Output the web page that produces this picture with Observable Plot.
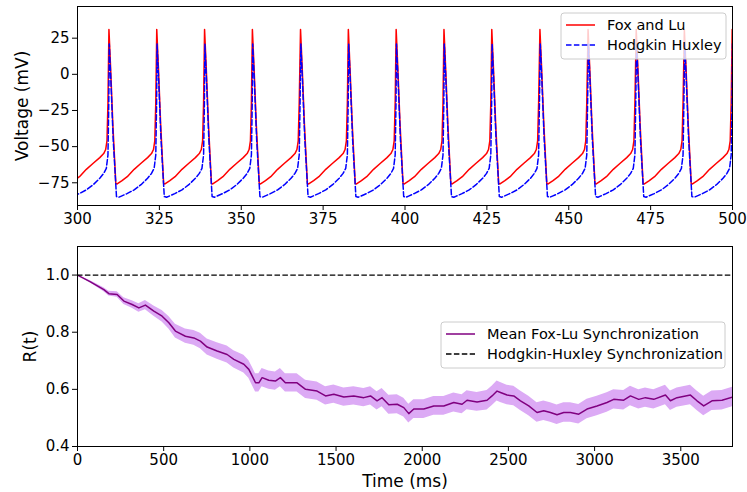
<!DOCTYPE html>
<html><head><meta charset="utf-8">
<script src="https://cdn.jsdelivr.net/npm/d3@7"></script>
<script src="https://cdn.jsdelivr.net/npm/@observablehq/plot@0.6"></script>
<style>
body{margin:0;background:#fff;}
#chart{width:747px;height:492px;}
#chart svg{display:block;}
</style>
</head><body><div id="chart"></div>
<script>
// ---------- Top panel data (membrane voltage) ----------
// spike peak times (ms) (first one lies just left of the view)
const spikeTimes = [295.0, 309.6, 324.2, 338.8, 353.4, 368.1, 382.7, 397.3, 411.9, 426.5, 441.2, 455.9, 470.6, 485.3, 499.9];
// one Fox & Lu cycle: offset after a spike peak (ms) and voltage (mV)
const foxCycleT = [0, 0.5, 1.2, 2.1, 2.5, 4.0, 5.6, 7.7, 9.8, 11.8, 13.0, 13.6, 14.0, 14.3];
const foxCycleV = [31, 5, -35, -75.5, -75.8, -73.5, -70.8, -65.7, -61.5, -57.6, -54.8, -52, -46, -20];
// one Hodgkin-Huxley cycle
const hhCycleT = [0.1, 0.6, 1.3, 2.3, 3.0, 3.8, 5.5, 7.7, 9.8, 11.8, 13.0, 13.8, 14.3, 14.55];
const hhCycleV = [21, -5, -45, -84.5, -85, -84.2, -82.5, -79.9, -76.3, -71.9, -68.5, -65, -55.8, -20];
const topXTicks = [300, 325, 350, 375, 400, 425, 450, 475, 500];
const topYTicks = [-75, -50, -25, 0, 25];

// ---------- Bottom panel data (synchronization) ----------
const syncTime = [0,75,153,182,230,269,317,356,394,443,491,530,568,626,675,713,752,810,868,907,965,994,1013,1033,1052,1071,1110,1148,1177,1206,1274,1323,1390,1439,1487,1545,1603,1661,1700,1738,1767,1806,1855,1893,1922,1951,2009,2067,2125,2183,2231,2260,2318,2376,2405,2434,2454,2492,2531,2570,2618,2666,2705,2744,2782,2821,2860,2908,2956,3014,3072,3111,3169,3208,3256,3295,3343,3411,3440,3478,3556,3594,3633,3681,3739,3800];
const syncMean = [1.000,0.976,0.949,0.935,0.932,0.909,0.897,0.885,0.895,0.874,0.856,0.833,0.804,0.786,0.780,0.769,0.748,0.734,0.722,0.705,0.688,0.670,0.647,0.623,0.623,0.641,0.632,0.629,0.641,0.623,0.623,0.600,0.594,0.577,0.583,0.573,0.577,0.571,0.577,0.560,0.571,0.546,0.548,0.536,0.515,0.531,0.531,0.542,0.542,0.554,0.548,0.562,0.556,0.562,0.577,0.594,0.589,0.580,0.577,0.560,0.542,0.519,0.525,0.519,0.511,0.519,0.519,0.513,0.531,0.542,0.554,0.565,0.562,0.577,0.565,0.571,0.565,0.580,0.560,0.571,0.580,0.560,0.542,0.560,0.562,0.573];
const syncSpread = [0.000,0.004,0.007,0.008,0.010,0.012,0.013,0.015,0.016,0.018,0.020,0.022,0.024,0.025,0.026,0.027,0.028,0.029,0.030,0.030,0.031,0.031,0.032,0.032,0.032,0.032,0.032,0.032,0.032,0.032,0.032,0.032,0.032,0.032,0.032,0.032,0.032,0.032,0.032,0.032,0.032,0.033,0.033,0.033,0.033,0.033,0.033,0.033,0.033,0.033,0.033,0.033,0.033,0.034,0.034,0.035,0.035,0.034,0.034,0.034,0.034,0.034,0.034,0.034,0.034,0.034,0.034,0.034,0.034,0.034,0.034,0.034,0.034,0.034,0.034,0.034,0.034,0.034,0.034,0.034,0.034,0.034,0.034,0.034,0.034,0.034];
const hhSyncLevel = [1.0];
const botXTicks = [0, 500, 1000, 1500, 2000, 2500, 3000, 3500];
const botYTicks = [0.4, 0.6, 0.8, 1.0];

// ---------- build tables ----------
function buildTrace(times, cT, cV) {
  const out = [];
  times.forEach(s => cT.forEach((o, i) => out.push({t: s + o, v: cV[i]})));
  return out;
}
const foxData = buildTrace(spikeTimes, foxCycleT, foxCycleV);
const hhData = buildTrace(spikeTimes, hhCycleT, hhCycleV);
const syncData = syncTime.map((t, i) => ({t, m: syncMean[i], lo: syncMean[i] - syncSpread[i], hi: syncMean[i] + syncSpread[i]}));

const FONT = "'DejaVu Sans', sans-serif";
const baseStyle = {fontFamily: FONT, fontSize: "15px", color: "#000", background: "#fff"};

const topPlot = Plot.plot({
  width: 747, height: 240,
  marginLeft: 77, marginRight: 15, marginTop: 6, marginBottom: 35,
  style: baseStyle,
  x: {domain: [300, 500], ticks: topXTicks, tickFormat: d3.format("d"), tickSize: 5, tickPadding: 3, label: null},
  y: {domain: [-90.7, 46.9], ticks: topYTicks, tickFormat: d3.format("d"), tickSize: 5, tickPadding: 3, label: null},
  marks: [
    Plot.line(foxData, {x: "t", y: "v", stroke: "#ff0000", strokeWidth: 1.5, clip: true}),
    Plot.line(hhData, {x: "t", y: "v", stroke: "#0000ff", strokeWidth: 1.5, strokeDasharray: "5.5,2.4", clip: true}),
    Plot.frame({stroke: "#000", strokeWidth: 1}),
    Plot.text(["Voltage (mV)"], {text: d => d, frameAnchor: "left", textAnchor: "middle", lineAnchor: "middle", dx: -55, rotate: -90, fontSize: 17})
  ]
});

const bottomPlot = Plot.plot({
  width: 747, height: 252,
  marginLeft: 77, marginRight: 15, marginTop: 6, marginBottom: 46,
  style: baseStyle,
  x: {domain: [0, 3800], ticks: botXTicks, tickFormat: d3.format("d"), tickSize: 5, tickPadding: 3, label: null},
  y: {domain: [0.4, 1.1], ticks: botYTicks, tickFormat: d3.format(".1f"), tickSize: 5, tickPadding: 3, label: null},
  marks: [
    Plot.areaY(syncData, {x: "t", y1: "lo", y2: "hi", fill: "#dcaaf5", clip: true}),
    Plot.line(syncData, {x: "t", y: "m", stroke: "#800080", strokeWidth: 1.5, clip: true}),
    Plot.ruleY(hhSyncLevel, {stroke: "#000", strokeWidth: 1.3, strokeDasharray: "5.5,2.4"}),
    Plot.frame({stroke: "#000", strokeWidth: 1}),
    Plot.text(["R(t)"], {text: d => d, frameAnchor: "left", textAnchor: "middle", lineAnchor: "middle", dx: -47, rotate: -90, fontSize: 17}),
    Plot.text(["Time (ms)"], {text: d => d, frameAnchor: "bottom", textAnchor: "middle", lineAnchor: "middle", dy: 35, fontSize: 17})
  ]
});

function addLegend(svg, x, y, w, h, items) {
  const g = d3.select(svg).append("g").attr("text-anchor", "start");
  g.append("rect").attr("x", x).attr("y", y).attr("width", w).attr("height", h)
    .attr("rx", 3).attr("fill", "#fff").attr("fill-opacity", 0.8)
    .attr("stroke", "#cccccc").attr("stroke-width", 1);
  items.forEach((it, i) => {
    const cy = y + 12 + i * 20;
    g.append("line").attr("x1", x + 5).attr("x2", x + 34).attr("y1", cy).attr("y2", cy)
      .attr("stroke", it.color).attr("stroke-width", 1.5)
      .attr("stroke-dasharray", it.dash || null);
    g.append("text").attr("x", x + 46).attr("y", cy).attr("dy", "0.35em")
      .attr("text-anchor", "start")
      .attr("font-family", FONT).attr("font-size", 14.5).attr("fill", "#000")
      .text(it.label);
  });
}
addLegend(topPlot, 561, 13, 165, 46, [
  {label: "Fox and Lu", color: "#ff0000"},
  {label: "Hodgkin Huxley", color: "#0000ff", dash: "5.5,2.4"}
]);
addLegend(bottomPlot, 441, 82, 284, 46, [
  {label: "Mean Fox-Lu Synchronization", color: "#800080"},
  {label: "Hodgkin-Huxley Synchronization", color: "#000", dash: "5.5,2.4"}
]);

const chart = document.getElementById("chart");
chart.appendChild(topPlot);
chart.appendChild(bottomPlot);
</script></body></html>
